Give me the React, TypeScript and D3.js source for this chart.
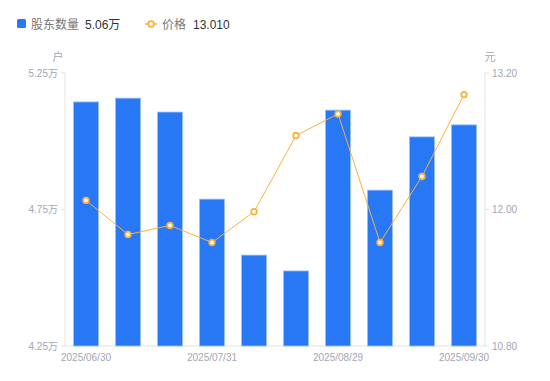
import React from "react";
import * as d3 from "d3";

const categories = ["2025/06/30","2025/07/10","2025/07/20","2025/07/31","2025/08/10","2025/08/20","2025/08/29","2025/09/10","2025/09/19","2025/09/30"];
const holders = [5.144, 5.158, 5.107, 4.788, 4.583, 4.525, 5.114, 4.821, 5.016, 5.06];
const prices = [12.08, 11.78, 11.86, 11.71, 11.98, 12.65, 12.84, 11.71, 12.29, 13.01];
const leftTicks = [4.25, 4.75, 5.25];
const rightTicks = [10.8, 12.0, 13.2];
const xLabelIdx = [0, 3, 6, 9];

const W = 550, H = 381;
const L = 65, R = 485, T = 73, B = 346;
const FONT = "'Liberation Sans', Arial, 'Noto Sans CJK SC', sans-serif";
const BLUE = "#2878f5";
const ORANGE = "#fbb03b";
const AXIS = "#e3e3e3";
const LABEL = "#a3a5b3";

export default function App() {
  const x = d3.scaleBand<string>().domain(categories).range([L, R]).paddingInner(0.4).paddingOuter(0.2);
  const xc = (c: string) => (x(c) as number) + x.bandwidth() / 2;
  const yl = d3.scaleLinear().domain([4.25, 5.25]).range([B, T]);
  const yr = d3.scaleLinear().domain([10.8, 13.2]).range([B, T]);
  const line = d3.line<number>().x((_, i) => xc(categories[i])).y((d) => yr(d));

  return (
    <svg width={W} height={H} style={{ position: "absolute", left: 0, top: 0 }} fontFamily={FONT}>
      {/* legend */}
      <rect x={17} y={19} width={9} height={9} rx={1.5} fill={BLUE} />
      <text x={31} y={28.5} fontSize={12} fill="#777">股东数量</text>
      <text x={85} y={28.5} fontSize={12} fill="#333">5.06万</text>
      <line x1={145} x2={157} y1={24} y2={24} stroke={ORANGE} strokeWidth={1.5} />
      <circle cx={151} cy={24} r={2.8} fill="#fff" stroke={ORANGE} strokeWidth={1.8} />
      <text x={162} y={28.5} fontSize={12} fill="#777">价格</text>
      <text x={193} y={28.5} fontSize={12} fill="#333">13.010</text>

      {/* units */}
      <text x={58} y={61} fontSize={11} fill={LABEL} textAnchor="middle">户</text>
      <text x={490} y={61} fontSize={11} fill={LABEL} textAnchor="middle">元</text>

      {/* axes */}
      <line x1={L} x2={L} y1={T} y2={B} stroke={AXIS} />
      <line x1={R} x2={R} y1={T} y2={B} stroke={AXIS} />
      <line x1={L} x2={R} y1={B} y2={B} stroke={AXIS} />
      {leftTicks.map((t) => (
        <g key={"l" + t}>
          <line x1={L - 4} x2={L} y1={yl(t)} y2={yl(t)} stroke={AXIS} />
          <text x={L - 7} y={yl(t)} dy="0.35em" fontSize={10} fill={LABEL} textAnchor="end">{t.toFixed(2)}万</text>
        </g>
      ))}
      {rightTicks.map((t) => (
        <g key={"r" + t}>
          <line x1={R} x2={R + 4} y1={yr(t)} y2={yr(t)} stroke={AXIS} />
          <text x={R + 7} y={yr(t)} dy="0.35em" fontSize={10} fill={LABEL}>{t.toFixed(2)}</text>
        </g>
      ))}
      {xLabelIdx.map((i) => (
        <text key={"x" + i} x={xc(categories[i])} y={B + 15} fontSize={10} fill={LABEL} textAnchor="middle">{categories[i]}</text>
      ))}

      {/* bars */}
      {holders.map((v, i) => (
        <rect key={"b" + i} x={x(categories[i])} y={yl(v)} width={x.bandwidth()} height={B - yl(v)}
          fill={BLUE} stroke="#9cc2fa" strokeWidth={0.8} />
      ))}

      {/* price line */}
      <path d={line(prices) || ""} fill="none" stroke={ORANGE} strokeWidth={1} />
      {prices.map((v, i) => (
        <circle key={"p" + i} cx={xc(categories[i])} cy={yr(v)} r={2.8} fill="#fff" stroke={ORANGE} strokeWidth={1.8} />
      ))}
    </svg>
  );
}
